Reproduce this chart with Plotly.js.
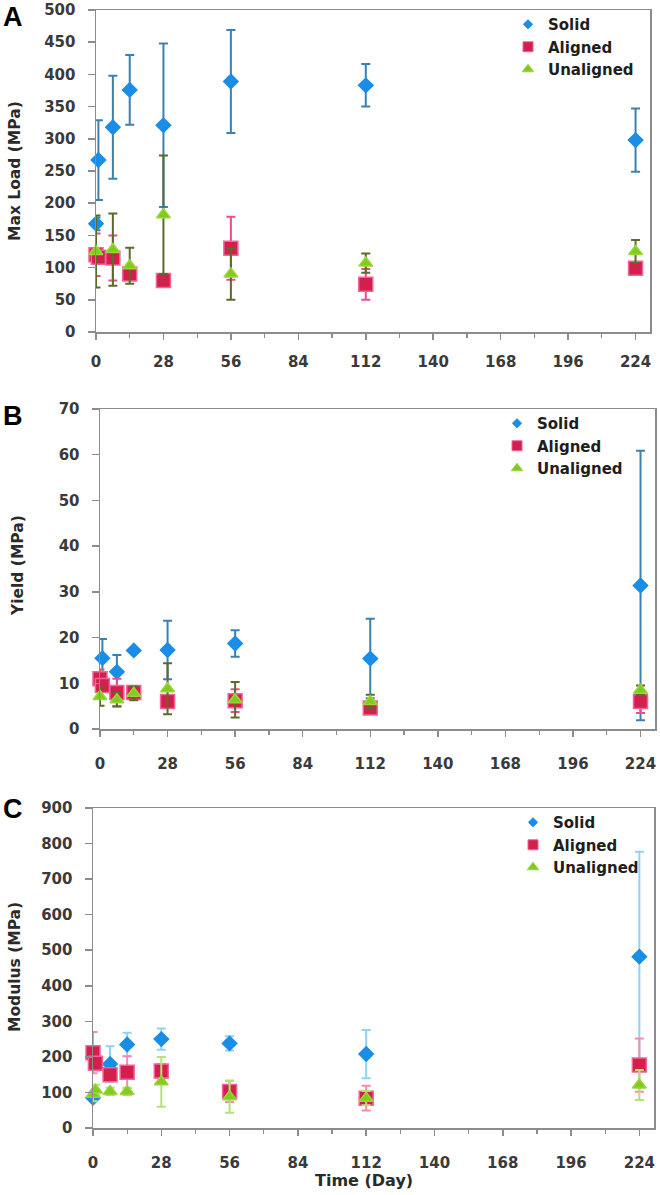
<!DOCTYPE html>
<html>
<head>
<meta charset="utf-8">
<script src="https://cdn.plot.ly/plotly-3.0.1.min.js"></script>
<style>html,body{margin:0;padding:0;background:#fff;}#chart{width:660px;height:1195px;}</style>
</head>
<body>
<div id="chart"></div>
<script>
// ---- data ----
const days = [0, 1, 7, 14, 28, 56, 112, 224];
const seriesNames = ["Solid", "Aligned", "Unaligned"];
const xTicks = [0, 28, 56, 84, 112, 140, 168, 196, 224];
const xMinorTicks = [14, 42, 70, 98, 126, 154, 182, 210];

// Panel A: Max Load (MPa)
const solidLoad        = [168, 267, 318, 376, 321, 389, 383, 298];
const solidLoadErr     = [10, 62, 80, 54, 127, 80, 33, 49];
const alignedLoad      = [120, 116, 115, 90, 80, 130, 74, 99];
const alignedLoadErr   = [33, 10, 35, 8, 10, 49, 24, 6];
const unalignedLoad    = [125, null, 128, 103, 182, 90, 107, 125];
const unalignedLoadErr = [56, null, 56, 28, 92, 40, 15, 18];

// Panel B: Yield (MPa)
const solidYield        = [null, 15.5, 12.5, 17.2, 17.3, 18.7, 15.4, 31.4];
const solidYieldErr     = [null, 4.2, 3.7, 0.5, 6.4, 2.9, 8.7, 29.5];
const alignedYield      = [11, 9.5, 8, 8, 6, 6.2, 4.6, 6];
const alignedYieldErr   = [2, 1, 3, 1, 1, 2.5, 1, 2.5];
const unalignedYield    = [7.1, null, 6.4, 7.8, 8.8, 6.4, 6, 8.5];
const unalignedYieldErr = [2, null, 1.5, 1.5, 5.6, 3.9, 1.5, 1];

// Panel C: Modulus (MPa)
const solidMod        = [85, null, 180, 235, 250, 238, 208, 482];
const solidModErr     = [10, null, 50, 33, 30, 20, 68, 295];
const alignedMod      = [212, 182, 150, 157, 160, 103, 84, 177];
const alignedModErr   = [58, 20, 15, 45, 20, 30, 35, 75];
const unalignedMod    = [95, 107, 103, 103, 130, 88, 84, 121];
const unalignedModErr = [20, 15, 10, 10, 70, 45, 20, 42];

// ---- styling ----
const W = 660, H = 1195;
const fill = ["#1a8de6", "#d21f4b", "#7fcc1c"];
const outline = ["#1a8de6", "#f0649a", "#9bd43a"];
const symbols = ["diamond", "square", "triangle-up"];
const sizes = [11, 14, 12];
const legSizes = [7, 10, 10];
const errDark = ["#3b80b3", "#e5508c", "#5a6b2a"];
const errLight = ["#8fd3f0", "#f28cb2", "#b6e07a"];

function mk(i, x, y, err, xa, ya, errColors) {
  return {
    type: "scatter", mode: "markers", name: seriesNames[i], showlegend: false,
    x: x, y: y, xaxis: xa, yaxis: ya,
    marker: {symbol: symbols[i], size: sizes[i], color: fill[i], line: {color: outline[i], width: 1.5}},
    error_y: {type: "data", array: err, visible: true, color: errColors[i], thickness: 2, width: 4.5},
    cliponaxis: false
  };
}
// legend-only entries (no data) so the legend symbols can be small like the original
function legEntry(i, xa, ya, leg) {
  return {
    type: "scatter", mode: "markers", name: seriesNames[i], showlegend: true, legend: leg,
    x: [null], y: [null], xaxis: xa, yaxis: ya,
    marker: {symbol: symbols[i], size: legSizes[i], color: fill[i], line: {color: outline[i], width: 1}}
  };
}

const traces = [
  mk(0, days, solidLoad, solidLoadErr, "x", "y", errDark),
  mk(1, days, alignedLoad, alignedLoadErr, "x", "y", errDark),
  mk(2, days, unalignedLoad, unalignedLoadErr, "x", "y", errDark),
  mk(0, days, solidYield, solidYieldErr, "x2", "y2", errDark),
  mk(1, days, alignedYield, alignedYieldErr, "x2", "y2", errDark),
  mk(2, days, unalignedYield, unalignedYieldErr, "x2", "y2", errDark),
  mk(0, days, solidMod, solidModErr, "x3", "y3", errLight),
  mk(1, days, alignedMod, alignedModErr, "x3", "y3", errLight),
  mk(2, days, unalignedMod, unalignedModErr, "x3", "y3", errLight),
  legEntry(0, "x", "y", "legend"), legEntry(1, "x", "y", "legend"), legEntry(2, "x", "y", "legend"),
  legEntry(0, "x2", "y2", "legend2"), legEntry(1, "x2", "y2", "legend2"), legEntry(2, "x2", "y2", "legend2"),
  legEntry(0, "x3", "y3", "legend3"), legEntry(1, "x3", "y3", "legend3"), legEntry(2, "x3", "y3", "legend3")
];

const tickFont = {family: "DejaVu Sans", size: 15, weight: "bold", color: "#3a3a3a"};
const lineCol = "#8c8c8c";

function xax(l, r, anchor, standoff) {
  return {
    domain: [l / W, r / W], anchor: anchor, range: [0, 230],
    tickvals: xTicks, ticks: "outside", ticklen: 6, tickwidth: 1.5, tickcolor: lineCol,
    minor: {tickvals: xMinorTicks, ticks: "outside", ticklen: 4, tickwidth: 1.2, tickcolor: lineCol},
    showgrid: false, zeroline: false, showline: true, linecolor: lineCol, linewidth: 1.5, mirror: true,
    tickfont: tickFont, ticklabelstandoff: standoff, ticklabeloverflow: "allow"
  };
}
function yax(top, bottom, anchor, max, dtick) {
  return {
    domain: [1 - bottom / H, 1 - top / H], anchor: anchor, range: [0, max * 1.0001], dtick: dtick, tick0: 0,
    ticks: "outside", ticklen: 7, tickwidth: 1.5, tickcolor: lineCol,
    showgrid: false, zeroline: false, showline: true, linecolor: lineCol, linewidth: 1.5, mirror: true,
    tickfont: tickFont, ticklabelstandoff: 9, ticklabeloverflow: "allow"
  };
}
const legFont = {family: "DejaVu Sans", size: 15, weight: "bold", color: "#1e1e1e"};
function leg(xpx, ypx) {
  return {x: xpx / W, y: 1 - ypx / H, xanchor: "left", yanchor: "top", font: legFont,
          bgcolor: "rgba(0,0,0,0)", tracegroupgap: 0};
}
const titleFont = {family: "DejaVu Sans", size: 15.5, weight: "bold", color: "#2a2a2a"};
const panelFont = {family: "Liberation Sans", size: 27, weight: "bold", color: "#000"};
function ann(text, xpx, ypx, font, angle) {
  return {text: text, x: xpx / W, y: 1 - ypx / H, xref: "paper", yref: "paper",
          showarrow: false, font: font, textangle: angle || 0, xanchor: "center", yanchor: "middle"};
}

const layout = {
  width: W, height: H, margin: {l: 0, r: 0, t: 0, b: 0},
  paper_bgcolor: "#fff", plot_bgcolor: "#fff", showlegend: true,
  xaxis: xax(96, 650, "y", 9),
  yaxis: yax(10, 332, "x", 500, 50),
  xaxis2: xax(100, 655, "y2", 14),
  yaxis2: yax(409, 729, "x2", 70, 10),
  xaxis3: xax(93, 654, "y3", 14),
  yaxis3: yax(808, 1128, "x3", 900, 100),
  legend: leg(508, 8),
  legend2: leg(497, 407),
  legend3: leg(513, 806),
  annotations: [
    ann("A", 13, 17, panelFont), ann("B", 13, 416, panelFont), ann("C", 13, 809, panelFont),
    ann("Max Load (MPa)", 15, 171, titleFont, -90),
    ann("Yield (MPa)", 18, 566, titleFont, -90),
    ann("Modulus (MPa)", 15, 967, titleFont, -90),
    ann("Time (Day)", 364, 1180, {family: "DejaVu Sans", size: 16, weight: "bold", color: "#2a2a2a"})
  ]
};

Plotly.newPlot("chart", traces, layout, {staticPlot: true, displayModeBar: false});
</script>
</body>
</html>
